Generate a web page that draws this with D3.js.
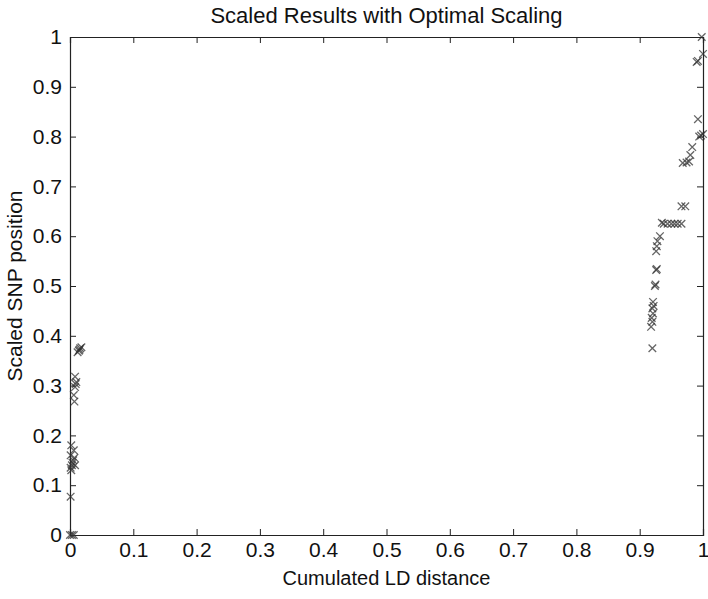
<!DOCTYPE html>
<html>
<head>
<meta charset="utf-8">
<script src="https://cdn.jsdelivr.net/npm/d3@7"></script>
<style>
  body { margin: 0; background: #fff; }
  svg text { font-family: "Liberation Sans", Arial, Helvetica, sans-serif; fill: #111; }
</style>
</head>
<body>
<div id="chart"></div>
<script>
// cumulated LD distance (x) and scaled SNP position (y)
var ldDistance = [
  // near zero
  0, 0.003, 0.006, 0.001, 0.002, 0.003, 0.001, 0.005, 0.004, 0.007, 0.006, 0.002,
  0.008, 0.001, 0.007, 0.006, 0.008, 0.009, 0.01, 0.008, 0.012, 0.015, 0.018, 0.016, 0.014,
  // near one
  0.92, 0.918, 0.92, 0.919, 0.921, 0.92, 0.922, 0.921, 0.924, 0.925, 0.926, 0.927,
  0.926, 0.927, 0.928, 0.932, 0.938, 0.944, 0.95, 0.955, 0.96, 0.966, 0.935, 0.966, 0.972,
  0.968, 0.974, 0.978, 0.98, 0.983, 0.994, 0.997, 1.0, 0.992, 0.99, 0.992, 1.0, 0.998
];
var snpPosition = [
  0, 0, 0, 0.077, 0.13, 0.14, 0.135, 0.15, 0.145, 0.155, 0.17, 0.18,
  0.14, 0.16, 0.268, 0.281, 0.297, 0.303, 0.307, 0.318, 0.367, 0.372, 0.377, 0.375, 0.37,
  0.375, 0.418, 0.428, 0.436, 0.445, 0.455, 0.46, 0.468, 0.5, 0.503, 0.532, 0.534,
  0.57, 0.58, 0.59, 0.6, 0.625, 0.625, 0.625, 0.625, 0.625, 0.625, 0.627, 0.66, 0.66,
  0.747, 0.748, 0.75, 0.763, 0.779, 0.8, 0.802, 0.805, 0.835, 0.95, 0.952, 0.966, 1.0
];
var xTicks = [0, 0.1, 0.2, 0.3, 0.4, 0.5, 0.6, 0.7, 0.8, 0.9, 1];
var yTicks = [0, 0.1, 0.2, 0.3, 0.4, 0.5, 0.6, 0.7, 0.8, 0.9, 1];

var w = 708, h = 599,
  margin = { top: 37, right: 5, bottom: 64, left: 70 },
  iw = w - margin.left - margin.right,
  ih = h - margin.top - margin.bottom;

var svg = d3.select("#chart").append("svg")
  .attr("width", w)
  .attr("height", h);

var g = svg.append("g")
  .attr("transform", "translate(" + margin.left + "," + margin.top + ")");

var x = d3.scaleLinear().domain([0, 1]).range([0, iw]);
var y = d3.scaleLinear().domain([0, 1]).range([ih, 0]);

var fmt = function (d) { return d3.format("~g")(d); };

// matlab style: ticks point inward, on all four sides
g.append("g")
  .attr("transform", "translate(0," + ih + ")")
  .call(d3.axisBottom(x).tickValues(xTicks).tickFormat(fmt).tickSize(-6).tickPadding(7))
  .call(styleAxis);
g.append("g")
  .call(d3.axisTop(x).tickValues(xTicks).tickFormat("").tickSize(-6))
  .call(styleAxis);
g.append("g")
  .call(d3.axisLeft(y).tickValues(yTicks).tickFormat(fmt).tickSize(-6).tickPadding(8))
  .call(styleAxis);
g.append("g")
  .attr("transform", "translate(" + iw + ",0)")
  .call(d3.axisRight(y).tickValues(yTicks).tickFormat("").tickSize(-6))
  .call(styleAxis);

function styleAxis(sel) {
  sel.select(".domain").attr("stroke", "#222").attr("stroke-width", 1.2);
  sel.selectAll(".tick line").attr("stroke", "#222").attr("stroke-width", 1);
  sel.selectAll(".tick text").attr("font-size", 21).attr("fill", "#111")
    .style("font-family", "'Liberation Sans', Arial, sans-serif");
}

// x markers
var s = 3.8;
var pts = ldDistance.map(function (d, i) { return [d, snpPosition[i]]; });
g.append("g").selectAll("path")
  .data(pts)
  .enter()
  .append("path")
  .attr("d", function (d) {
    var cx = x(d[0]), cy = y(d[1]);
    return "M" + (cx - s) + "," + (cy - s) + "L" + (cx + s) + "," + (cy + s) +
      "M" + (cx - s) + "," + (cy + s) + "L" + (cx + s) + "," + (cy - s);
  })
  .attr("stroke", "#333")
  .attr("stroke-opacity", 0.75)
  .attr("stroke-width", 1.3)
  .attr("fill", "none");

svg.append("text")
  .attr("x", margin.left + iw / 2)
  .attr("y", 23)
  .attr("text-anchor", "middle")
  .attr("font-size", 22)
  .text("Scaled Results with Optimal Scaling");

svg.append("text")
  .attr("x", margin.left + iw / 2)
  .attr("y", 585)
  .attr("text-anchor", "middle")
  .attr("font-size", 20)
  .text("Cumulated LD distance");

svg.append("text")
  .attr("transform", "translate(22," + (margin.top + ih / 2) + ") rotate(-90)")
  .attr("text-anchor", "middle")
  .attr("font-size", 21)
  .text("Scaled SNP position");
</script>
</body>
</html>
